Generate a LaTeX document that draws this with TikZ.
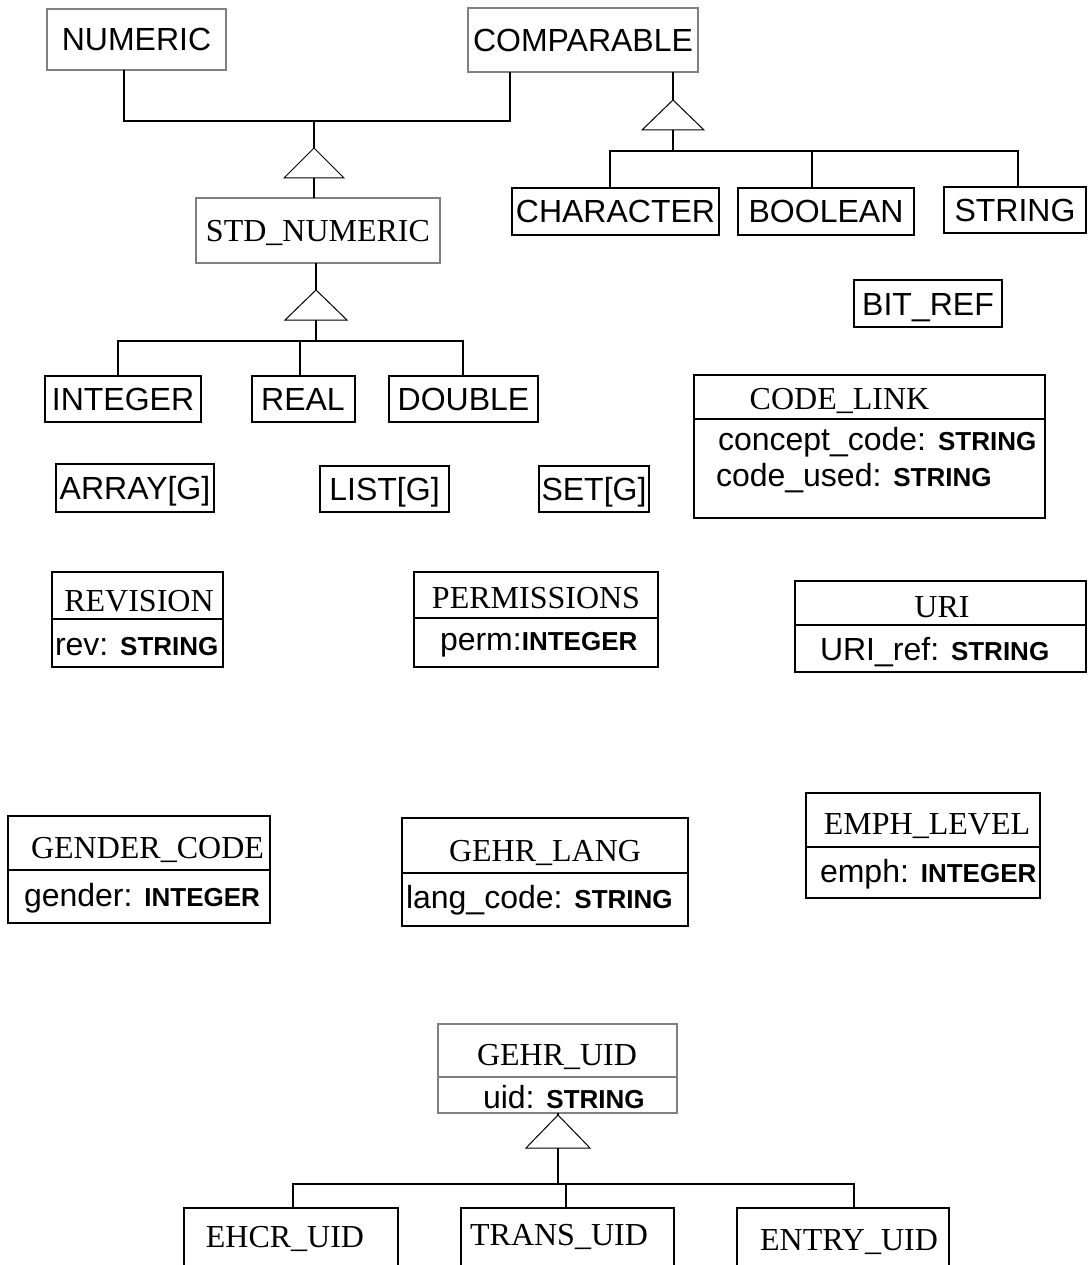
\documentclass[tikz,border=0pt]{standalone}
\usepackage{fontspec}
\setmainfont{Liberation Sans}
\newfontfamily\seriffam{Liberation Serif}
\newcommand\typename[1]{{\fontsize{26}{30}\selectfont\bfseries #1}}
\begin{document}
\begin{tikzpicture}[x=1pt,y=-1pt,
  every node/.style={inner sep=0pt, outer sep=0pt, font=\fontsize{32}{38}\selectfont},
  box/.style={draw=black, line width=2pt, text height=23pt, text depth=0pt},
  greybox/.style={draw=black!50, line width=2.5pt},
  sbox/.style={box, font=\fontsize{32}{38}\selectfont\seriffam, text height=21pt},
  cls/.style={draw=black, line width=2pt},
  divider/.style={line width=2pt},
  title/.style={anchor=base, font=\fontsize{32}{38}\selectfont\seriffam},
  attr/.style={anchor=base west},
  link/.style={line width=2pt},
  tri/.style={line width=1pt, line join=miter},
]
\useasboundingbox (0,0) rectangle (1087,1265);

% ---------- simple type boxes ----------
\node[box, greybox, minimum width=179pt, minimum height=61pt] (numeric) at (136.5,39.5) {NUMERIC};
\node[box, greybox, minimum width=230pt, minimum height=64pt] (comparable) at (583,40) {COMPARABLE};
\node[sbox, greybox, minimum width=244pt, minimum height=65pt] (stdnum) at (318,230.5) {STD\_NUMERIC};

\node[box, minimum width=207pt, minimum height=47pt] (character) at (615.5,211.5) {CHARACTER};
\node[box, minimum width=176pt, minimum height=47pt] (boolean) at (826,211.5) {BOOLEAN};
\node[box, minimum width=142pt, minimum height=46pt] (string) at (1015,210) {STRING};
\node[box, minimum width=148pt, minimum height=47pt] (bitref) at (928,303.5) {BIT\_REF};

\node[box, minimum width=156pt, minimum height=46pt] (integer) at (123,399) {INTEGER};
\node[box, minimum width=103pt, minimum height=46pt] (real) at (303,399) {REAL};
\node[box, minimum width=149pt, minimum height=46pt] (double) at (463.5,399) {DOUBLE};

\node[box, minimum width=158pt, minimum height=48pt] (array) at (135,488) {ARRAY[G]};
\node[box, minimum width=129pt, minimum height=46pt] (list) at (384.5,489) {LIST[G]};
\node[box, minimum width=110pt, minimum height=46pt] (set) at (594,489) {SET[G]};

% ---------- classes with attributes ----------
\node[cls, minimum width=351pt, minimum height=143pt] (codelink) at (869.5,446.5) {};
\draw[divider] ([yshift=-44pt]codelink.north west) -- ([yshift=-44pt]codelink.north east);
\node[title] (codelinkname) at (839.5,409) {CODE\_LINK};
\node[attr] (codelinka) at (718,450) {concept\_code: \typename{STRING}};
\node[attr] (codelinkb) at (716,486) {code\_used: \typename{STRING}};

\node[cls, minimum width=171pt, minimum height=95pt] (revision) at (137.5,619.5) {};
\draw[divider] ([yshift=-47pt]revision.north west) -- ([yshift=-47pt]revision.north east);
\node[title] (revisionname) at (139,611) {REVISION};
\node[attr] (revisiona) at (55,655) {rev: \typename{STRING}};

\node[cls, minimum width=244pt, minimum height=95pt] (perm) at (536,619.5) {};
\draw[divider] ([yshift=-46pt]perm.north west) -- ([yshift=-46pt]perm.north east);
\node[title] (permname) at (536,608) {PERMISSIONS};
\node[attr] (perma) at (440,650) {perm:\typename{INTEGER}};

\node[cls, minimum width=291pt, minimum height=91pt] (uri) at (940,626.5) {};
\draw[divider] ([yshift=-44pt]uri.north west) -- ([yshift=-44pt]uri.north east);
\node[title] (uriname) at (942,617) {URI};
\node[attr] (uria) at (820,660) {URI\_ref: \typename{STRING}};

\node[cls, minimum width=262pt, minimum height=107pt] (gender) at (139,869.5) {};
\draw[divider] ([yshift=-54pt]gender.north west) -- ([yshift=-54pt]gender.north east);
\node[title] (gendername) at (147.5,858) {GENDER\_CODE};
\node[attr] (gendera) at (24,906) {gender: \typename{INTEGER}};

\node[cls, minimum width=286pt, minimum height=108pt] (lang) at (545,872) {};
\draw[divider] ([yshift=-55pt]lang.north west) -- ([yshift=-55pt]lang.north east);
\node[title] (langname) at (545,861) {GEHR\_LANG};
\node[attr] (langa) at (406,908) {lang\_code: \typename{STRING}};

\node[cls, minimum width=234pt, minimum height=105pt] (emph) at (923,845.5) {};
\draw[divider] ([yshift=-54pt]emph.north west) -- ([yshift=-54pt]emph.north east);
\node[title] (emphname) at (927,834) {EMPH\_LEVEL};
\node[attr] (empha) at (820,882) {emph: \typename{INTEGER}};

\node[cls, greybox, minimum width=239pt, minimum height=89pt] (uid) at (557.5,1068.5) {};
\draw[divider, draw=black!50] ([yshift=-53pt]uid.north west) -- ([yshift=-53pt]uid.north east);
\node[title] (uidname) at (557,1065) {GEHR\_UID};
\node[attr] (uida) at (483,1108) {uid: \typename{STRING}};

% boxes running off the lower edge
\node[cls, minimum width=214pt, minimum height=100pt] (ehcr) at (291,1258) {};
\node[cls, minimum width=213pt, minimum height=100pt] (trans) at (567.5,1258) {};
\node[cls, minimum width=212pt, minimum height=100pt] (entry) at (843,1258) {};
\node[title] (ehcrname) at (285,1247) {EHCR\_UID};
\node[title] (transname) at (559,1245) {TRANS\_UID};
\node[title] (entryname) at (849,1250) {ENTRY\_UID};

% ---------- NUMERIC, COMPARABLE <- STD_NUMERIC ----------
\coordinate (a1) at (124,121);
\coordinate (a2) at (510,121);
\coordinate (a3) at (314,121);
\coordinate (t1) at (314,148);
\coordinate (t1b) at (314,178);
\draw[link] (numeric.south -| a1) -- (a1) -- (a2) -- (comparable.south -| a2);
\draw[link] (a3) -- (t1);
\draw[tri] (t1) -- ++(-30,30) -- ++(60,0) -- cycle;
\draw[link] (t1b) -- (stdnum.north -| t1b);

% ---------- STD_NUMERIC <- INTEGER, REAL, DOUBLE ----------
\coordinate (t2) at (316,290);
\coordinate (t2b) at (316,320);
\coordinate (b0) at (316,341);
\coordinate (b1) at (118,341);
\coordinate (b2) at (300,341);
\coordinate (b3) at (463,341);
\draw[link] (stdnum.south -| t2) -- (t2);
\draw[tri] (t2) -- ++(-31,30) -- ++(62,0) -- cycle;
\draw[link] (t2b) -- (b0);
\draw[link] (integer.north -| b1) -- (b1) -- (b3) -- (double.north -| b3);
\draw[link] (b2) -- (real.north -| b2);

% ---------- COMPARABLE <- CHARACTER, BOOLEAN, STRING ----------
\coordinate (t3) at (673,100);
\coordinate (t3b) at (673,130);
\coordinate (c0) at (673,151);
\coordinate (c1) at (610,151);
\coordinate (c2) at (812,151);
\coordinate (c3) at (1018,151);
\draw[link] (comparable.south -| t3) -- (t3);
\draw[tri] (t3) -- ++(-31,30) -- ++(62,0) -- cycle;
\draw[link] (t3b) -- (c0);
\draw[link] (character.north -| c1) -- (c1) -- (c3) -- (string.north -| c3);
\draw[link] (c2) -- (boolean.north -| c2);

% ---------- GEHR_UID <- EHCR_UID, TRANS_UID, ENTRY_UID ----------
\coordinate (t4) at (558,1115);
\coordinate (t4b) at (558,1148);
\coordinate (d0) at (558,1184);
\coordinate (d1) at (293,1184);
\coordinate (d2) at (566,1184);
\coordinate (d3) at (854,1184);
\draw[link] (uid.south -| t4) -- (t4);
\draw[tri] (t4) -- ++(-32,33) -- ++(64,0) -- cycle;
\draw[link] (t4b) -- (d0);
\draw[link] (ehcr.north -| d1) -- (d1) -- (d3) -- (entry.north -| d3);
\draw[link] (d2) -- (trans.north -| d2);
\end{tikzpicture}
\end{document}
